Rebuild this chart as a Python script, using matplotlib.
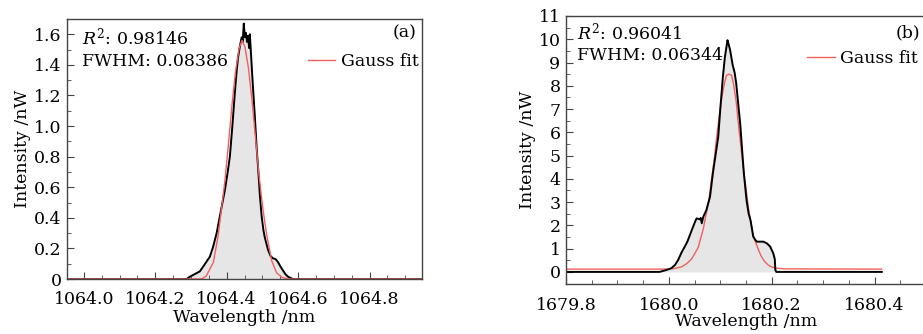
import matplotlib
matplotlib.use("Agg")
import matplotlib.pyplot as plt
from matplotlib.ticker import FixedLocator, MultipleLocator

plt.rcParams["font.family"] = ["DejaVu Serif"]
plt.rcParams["mathtext.fontset"] = "dejavuserif"

# panel (a) measured spectrum, 1064 nm
wl_a = [1063.95, 1064.288, 1064.297, 1064.306, 1064.325, 1064.334, 1064.353, 1064.362,
        1064.372, 1064.381, 1064.390, 1064.395, 1064.403, 1064.409, 1064.416, 1064.423,
        1064.428, 1064.432, 1064.437, 1064.442, 1064.445, 1064.448, 1064.451, 1064.454,
        1064.457, 1064.460, 1064.463, 1064.465, 1064.468, 1064.472, 1064.479, 1064.484,
        1064.488, 1064.493, 1064.498, 1064.503, 1064.507, 1064.516, 1064.523, 1064.530,
        1064.537, 1064.544, 1064.551, 1064.558, 1064.565, 1064.572, 1064.585, 1064.95]
int_a = [0, 0, 0.015, 0.026, 0.05, 0.08, 0.146, 0.21,
         0.30, 0.41, 0.52, 0.58, 0.70, 0.80, 1.00, 1.22,
         1.36, 1.45, 1.52, 1.58, 1.55, 1.67, 1.58, 1.61,
         1.55, 1.59, 1.51, 1.60, 1.48, 1.32, 1.06, 0.86,
         0.73, 0.55, 0.41, 0.32, 0.27, 0.19, 0.15, 0.135,
         0.13, 0.11, 0.08, 0.055, 0.03, 0.015, 0, 0]

# panel (a) Gauss fit curve
fit_wl_a = [1063.95, 1064.33, 1064.343, 1064.363, 1064.376, 1064.385, 1064.395, 1064.405,
            1064.415, 1064.425, 1064.435, 1064.443, 1064.451, 1064.461, 1064.471, 1064.481,
            1064.491, 1064.502, 1064.512, 1064.526, 1064.540, 1064.555, 1064.575, 1064.95]
fit_int_a = [0, 0, 0.02, 0.11, 0.28, 0.45, 0.64, 0.88,
             1.14, 1.36, 1.51, 1.56, 1.52, 1.38, 1.17, 0.92,
             0.67, 0.45, 0.29, 0.12, 0.04, 0.01, 0, 0]

# panel (b) measured spectrum, 1680 nm
wl_b = [1679.8, 1679.982, 1679.995, 1680.005, 1680.012, 1680.018, 1680.025, 1680.031,
        1680.036, 1680.041, 1680.046, 1680.051, 1680.054, 1680.057, 1680.060, 1680.062,
        1680.064, 1680.067, 1680.073, 1680.080, 1680.086, 1680.090, 1680.096, 1680.100,
        1680.105, 1680.109, 1680.114, 1680.116, 1680.119, 1680.124, 1680.128, 1680.131,
        1680.135, 1680.139, 1680.142, 1680.146, 1680.151, 1680.155, 1680.159, 1680.164,
        1680.168, 1680.171, 1680.184, 1680.191, 1680.197, 1680.203, 1680.206, 1680.207,
        1680.209, 1680.414]
int_b = [0, 0, 0.08, 0.16, 0.30, 0.51, 0.85, 1.09,
         1.30, 1.59, 1.88, 2.16, 2.30, 2.28, 2.26, 2.32,
         2.09, 2.37, 2.66, 3.23, 4.30, 4.9, 5.8, 7.0,
         8.38, 9.24, 9.96, 9.80, 9.55, 8.90, 8.55, 8.10,
         7.2, 6.3, 5.38, 4.2, 3.09, 2.52, 2.2, 1.52,
         1.38, 1.30, 1.30, 1.22, 1.09, 0.80, 0.55, 0.09,
         0, 0]

# panel (b) Gauss fit curve
fit_wl_b = [1679.8, 1679.99, 1680.010, 1680.025, 1680.035, 1680.044, 1680.052, 1680.057,
            1680.062, 1680.067, 1680.073, 1680.078, 1680.083, 1680.088, 1680.093, 1680.098,
            1680.103, 1680.108, 1680.112, 1680.117, 1680.122, 1680.126, 1680.131, 1680.135,
            1680.140, 1680.145, 1680.150, 1680.155, 1680.160, 1680.165, 1680.170, 1680.175,
            1680.180, 1680.186, 1680.193, 1680.200, 1680.210, 1680.225, 1680.414]
fit_int_b = [0.12, 0.12, 0.14, 0.22, 0.36, 0.55, 0.85, 1.05,
             1.45, 1.85, 2.55, 3.1, 4.0, 4.8, 5.8, 6.7,
             7.5, 8.1, 8.45, 8.50, 8.45, 8.05, 7.3, 6.4,
             5.4, 4.4, 3.6, 2.7, 2.05, 1.5, 1.2, 0.9,
             0.66, 0.45, 0.30, 0.21, 0.16, 0.13, 0.12]

xticks_a = [1064.0, 1064.2, 1064.4, 1064.6, 1064.8]
xlabels_a = ["1064.0", "1064.2", "1064.4", "1064.6", "1064.8"]
yticks_a = [0, 0.2, 0.4, 0.6, 0.8, 1.0, 1.2, 1.4, 1.6]
ylabels_a = ["0", "0.2", "0.4", "0.6", "0.8", "1.0", "1.2", "1.4", "1.6"]
xticks_b = [1679.8, 1680.0, 1680.2, 1680.4]
xlabels_b = ["1679.8", "1680.0", "1680.2", "1680.4"]
yticks_b = list(range(0, 12))

W, H = 923, 334
fig = plt.figure(figsize=(W / 100, H / 100), dpi=100)
ax_a = fig.add_axes([67 / W, 55 / H, 355 / W, 260 / H])
ax_b = fig.add_axes([566 / W, 50 / H, 360 / W, 268 / H])

fs = 12.5
spine_c = "#444444"


def style(ax):
    for s in ax.spines.values():
        s.set_color(spine_c)
        s.set_linewidth(1.0)
    ax.tick_params(which="both", direction="in", top=False, right=False,
                   color=spine_c, labelsize=fs)
    ax.tick_params(axis="x", pad=9)
    ax.tick_params(axis="y", pad=4)
    ax.tick_params(which="major", length=5)
    ax.tick_params(which="minor", length=3)
    ax.set_xlabel("Wavelength /nm", fontsize=fs, labelpad=0)
    ax.set_ylabel("Intensity /nW", fontsize=fs, labelpad=2)


# (a)
ax = ax_a
ax.fill_between(wl_a, int_a, 0, color="#e6e6e6", lw=0)
ax.plot(wl_a, int_a, color="black", lw=1.4)
ax.plot(fit_wl_a, fit_int_a, color="#f26060", lw=1.0, label="Gauss fit")
ax.set_xlim(1063.953, 1064.947)
ax.set_ylim(0, 1.70)
ax.xaxis.set_major_locator(FixedLocator(xticks_a))
ax.set_xticklabels(xlabels_a)
ax.xaxis.set_minor_locator(MultipleLocator(0.05))
ax.set_yticks(yticks_a)
ax.set_yticklabels(ylabels_a)
ax.yaxis.set_minor_locator(MultipleLocator(0.1))
style(ax)
ax.text(0.042, 0.93, "$R^2$: 0.98146", transform=ax.transAxes, fontsize=fs, va="center")
ax.text(0.042, 0.835, "FWHM: 0.08386", transform=ax.transAxes, fontsize=fs, va="center")
ax.text(0.985, 0.946, "(a)", transform=ax.transAxes, fontsize=fs, va="center", ha="right")
ax.legend(loc="center right", bbox_to_anchor=(0.99, 0.835), frameon=False, fontsize=fs,
          borderaxespad=0, borderpad=0, handlelength=1.6, handletextpad=0.3)

# (b)
ax = ax_b
ax.fill_between(wl_b, int_b, 0, color="#e6e6e6", lw=0)
ax.plot(fit_wl_b, fit_int_b, color="#f26060", lw=1.0, label="Gauss fit")
ax.plot(wl_b, int_b, color="black", lw=1.4)
ax.set_xlim(1679.8, 1680.5)
ax.set_ylim(-0.52, 11)
ax.xaxis.set_major_locator(FixedLocator(xticks_b))
ax.set_xticklabels(xlabels_b)
ax.xaxis.set_minor_locator(MultipleLocator(0.05))
ax.set_yticks(yticks_b)
ax.yaxis.set_minor_locator(MultipleLocator(0.5))
style(ax)
ax.text(0.031, 0.94, "$R^2$: 0.96041", transform=ax.transAxes, fontsize=fs, va="center")
ax.text(0.031, 0.854, "FWHM: 0.06344", transform=ax.transAxes, fontsize=fs, va="center")
ax.text(0.985, 0.937, "(b)", transform=ax.transAxes, fontsize=fs, va="center", ha="right")
h, l = ax.get_legend_handles_labels()
ax.legend(h, l, loc="center right", bbox_to_anchor=(0.978, 0.84), frameon=False, fontsize=fs,
          borderaxespad=0, borderpad=0, handlelength=1.6, handletextpad=0.3)

fig.savefig("out.png", dpi=100)
